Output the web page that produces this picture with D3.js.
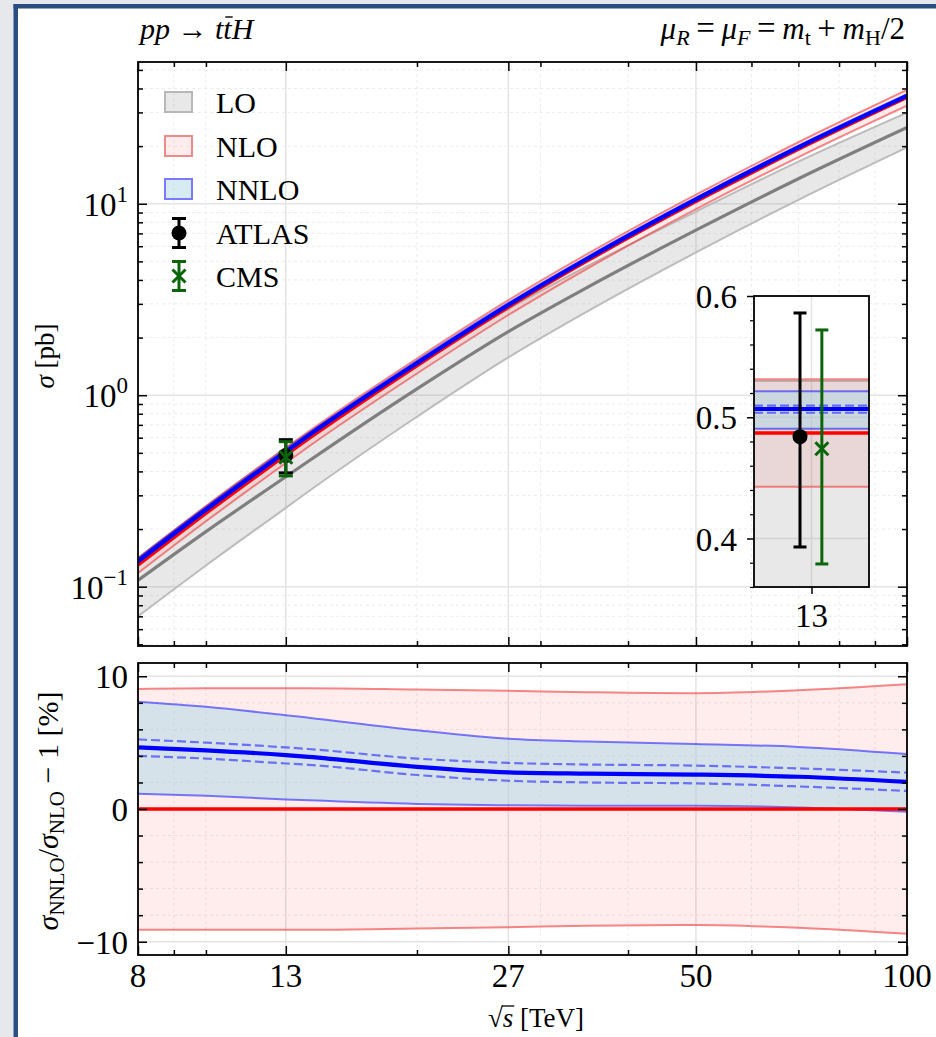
<!DOCTYPE html>
<html><head><meta charset="utf-8">
<script src="https://cdn.jsdelivr.net/npm/d3@7/dist/d3.min.js"></script>
<style>
html,body{margin:0;padding:0;background:#fff;}
svg{display:block;}
text{font-family:"Liberation Serif","Times New Roman",serif;fill:#000;}
</style></head><body>
<svg id="chart" width="936" height="1037"></svg>
<script>
// ---------------- data ----------------
const energies = [8, 10, 13, 14, 20, 27, 35, 50, 70, 100];
const loCentral = [0.108, 0.194, 0.375, 0.452, 1.08, 2.15, 3.66, 7.28, 13.5, 25.0];
const loLow = [0.070, 0.129, 0.258, 0.314, 0.772, 1.576, 2.74, 5.57, 10.49, 19.7];
const loHigh = [0.141, 0.263, 0.530, 0.635, 1.47, 2.82, 4.72, 9.10, 16.6, 29.9];
const nloCentral = [0.1296, 0.2415, 0.487, 0.5915, 1.426, 2.88, 5.03, 10.26, 19.24, 35.9];
const nloLow = [0.1178, 0.2195, 0.4427, 0.5377, 1.298, 2.624, 4.587, 9.363, 17.52, 32.53];
const nloHigh = [0.1413, 0.2635, 0.5313, 0.6453, 1.554, 3.136, 5.473, 11.16, 20.95, 39.28];
const nnloCentral = [0.1356, 0.2521, 0.5068, 0.6149, 1.471, 2.960, 5.163, 10.53, 19.71, 36.63];
const nnloLow = [0.1311, 0.2439, 0.4905, 0.5953, 1.431, 2.888, 5.043, 10.29, 19.26, 35.83];
const nnloHigh = [0.1401, 0.2601, 0.5214, 0.6323, 1.511, 3.033, 5.287, 10.76, 20.14, 37.39];
const nnloDashLow = [0.1348, 0.2507, 0.5037, 0.6112, 1.463, 2.941, 5.131, 10.46, 19.57, 36.39];
const nnloDashHigh = [0.1364, 0.2536, 0.5096, 0.6181, 1.480, 2.980, 5.199, 10.60, 19.83, 36.88];

// ratio panel, percent
const ratioNloCentral = [0, 0, 0, 0, 0, 0, 0, 0, 0, 0];
const ratioNloHigh = [9.05, 9.1, 9.1, 9.1, 9.0, 8.9, 8.8, 8.72, 8.95, 9.4];
const ratioNloLow = [-9.1, -9.1, -9.1, -9.1, -9.0, -8.9, -8.8, -8.74, -8.95, -9.4];
const ratioNnloCentral = [4.64, 4.42, 4.06, 3.93, 3.18, 2.76, 2.66, 2.59, 2.43, 2.04];
const ratioNnloLow = [1.15, 1.0, 0.72, 0.65, 0.38, 0.28, 0.25, 0.25, 0.12, -0.2];
const ratioNnloHigh = [8.08, 7.7, 7.07, 6.88, 5.94, 5.3, 5.08, 4.89, 4.68, 4.14];
const ratioNnloDashLow = [4.0, 3.8, 3.43, 3.33, 2.56, 2.13, 2.0, 1.93, 1.7, 1.36];
const ratioNnloDashHigh = [5.24, 5.0, 4.64, 4.52, 3.8, 3.47, 3.35, 3.27, 3.06, 2.74];

// measurements at 13 TeV
const atlas = {e: 13, v: 0.484, lo: 0.393, hi: 0.586, insetE: 12.9};
const cms = {e: 13, v: 0.474, lo: 0.379, hi: 0.572, insetE: 13.09};

// ticks
const xTicks = [8, 13, 27, 50, 100];
const xTickLabels = ["8", "13", "27", "50", "100"];
const xMinor = [9, 10, 20, 30, 40, 60, 70, 80, 90];
const yMajor = [0.1, 1, 10];
const yMajorExp = ["\u22121", "0", "1"];
const yMinor = [0.05, 0.06, 0.07, 0.08, 0.09, 0.2, 0.3, 0.4, 0.5, 0.6, 0.7, 0.8, 0.9, 2, 3, 4, 5, 6, 7, 8, 9, 20, 30, 40, 50];
const rMajor = [-10, 0, 10];
const rMajorLabels = ["\u221210", "0", "10"];
const rMinor = [-8, -6, -4, -2, 2, 4, 6, 8];
const insetMajor = [0.4, 0.5, 0.6];
const insetMajorLabels = ["0.4", "0.5", "0.6"];
const insetMinor = [0.36, 0.38, 0.42, 0.44, 0.46, 0.48, 0.52, 0.54, 0.56, 0.58];
const legendItems = ["LO", "NLO", "NNLO", "ATLAS", "CMS"];

// ---------------- layout ----------------
const W = 936, H = 1037;
const M = {l: 138, r: 907, t: 62, b: 646};
const R = {l: 138, r: 907, t: 663, b: 955};
const I = {l: 754, r: 869, t: 296, b: 587};

const C = {
  loFill: "rgba(128,128,128,0.18)", loEdge: "#bcbcbc", loLine: "#7f7f7f",
  nloFill: "rgba(255,0,0,0.07)", nloEdge: "rgba(240,70,70,0.65)", nloLine: "#ff0000",
  nnloFill: "rgba(173,216,230,0.5)", nnloEdge: "rgba(0,0,255,0.5)", nnloLine: "#0000ff",
  grid: "#e4e4e4", gridMinor: "#ececec", green: "#0a650a"
};

const svg = d3.select("#chart");
// page frame
svg.append("rect").attr("width", W).attr("height", H).attr("fill", "#e6e8eb");
svg.append("rect").attr("x", 16).attr("y", 6).attr("width", W - 16).attr("height", H - 6).attr("fill", "#fff");
svg.append("rect").attr("x", 13.5).attr("y", 4).attr("width", 4.5).attr("height", H - 4).attr("fill", "#2a4e7f");
svg.append("rect").attr("x", 13.5).attr("y", 4).attr("width", W - 13.5).attr("height", 4.5).attr("fill", "#2a4e7f");

const x = d3.scaleLog().domain([8, 100]).range([M.l, M.r]);
const y = d3.scaleLog().domain([0.049, 55]).range([M.b, M.t]);
const yr = d3.scaleLinear().domain([-11, 11]).range([R.b, R.t]);
const xi = d3.scaleLinear().domain([12.5, 13.5]).range([I.l, I.r]);
const yi = d3.scaleLinear().domain([0.36, 0.6]).range([I.b, I.t]);

const defs = svg.append("defs");
function clip(id, b) {
  defs.append("clipPath").attr("id", id).append("rect")
    .attr("x", b.l).attr("y", b.t).attr("width", b.r - b.l).attr("height", b.b - b.t);
}
clip("clipM", M); clip("clipR", R); clip("clipI", I);

// ---------------- helpers ----------------
function grid(g, b, xs, ysc, yMaj, yMin, xsc) {
  const add = (x1, x2, y1, y2, major) => g.append("line")
    .attr("x1", x1).attr("x2", x2).attr("y1", y1).attr("y2", y2)
    .attr("stroke", major ? C.grid : C.gridMinor)
    .attr("stroke-width", major ? 1.5 : 1)
    .attr("stroke-dasharray", major ? null : "3,3");
  xMinor.forEach(v => add(xsc(v), xsc(v), b.t, b.b, false));
  yMin.forEach(v => add(b.l, b.r, ysc(v), ysc(v), false));
  xs.forEach(v => add(xsc(v), xsc(v), b.t, b.b, true));
  yMaj.forEach(v => add(b.l, b.r, ysc(v), ysc(v), true));
}
function band(g, lo, hi, ysc, fill) {
  g.append("path").datum(energies.map((e, i) => [e, lo[i], hi[i]]))
    .attr("d", d3.area().x(d => x(d[0])).y0(d => ysc(d[1])).y1(d => ysc(d[2])).curve(d3.curveMonotoneX))
    .attr("fill", fill);
}
function curve(g, vals, ysc, stroke, w, dash) {
  g.append("path").datum(energies.map((e, i) => [e, vals[i]]))
    .attr("d", d3.line().x(d => x(d[0])).y(d => ysc(d[1])).curve(d3.curveMonotoneX))
    .attr("fill", "none").attr("stroke", stroke).attr("stroke-width", w)
    .attr("stroke-dasharray", dash || null);
}
function drawSet(g, ysc, s) {
  band(g, s.loL, s.loH, ysc, C.loFill);
  curve(g, s.loL, ysc, C.loEdge, 2); curve(g, s.loH, ysc, C.loEdge, 2);
  band(g, s.nloL, s.nloH, ysc, C.nloFill);
  curve(g, s.nloL, ysc, C.nloEdge, 2); curve(g, s.nloH, ysc, C.nloEdge, 2);
  band(g, s.nnloL, s.nnloH, ysc, C.nnloFill);
  curve(g, s.nnloL, ysc, C.nnloEdge, 2); curve(g, s.nnloH, ysc, C.nnloEdge, 2);
  if (s.lo) curve(g, s.lo, ysc, C.loLine, 3.2);
  curve(g, s.nlo, ysc, C.nloLine, 3.4);
  curve(g, s.dL, ysc, C.nnloEdge, 2.2, "9,4"); curve(g, s.dH, ysc, C.nnloEdge, 2.2, "9,4");
  curve(g, s.nnlo, ysc, C.nnloLine, 4.2);
}
function tickAxis(b, xsc, ysc, xMaj, xMin, yMaj, yMin) {
  const g = svg.append("g");
  const mk = (axis, tr, vals, size) => {
    const a = g.append("g").attr("transform", tr)
      .call(axis.tickValues(vals).tickSize(size).tickFormat(""));
    a.select(".domain").remove();
    a.selectAll("line").attr("stroke", "#000").attr("stroke-width", 1.5);
  };
  mk(d3.axisBottom(xsc), `translate(0,${b.b})`, xMaj, -9);
  mk(d3.axisBottom(xsc), `translate(0,${b.b})`, xMin, -5);
  mk(d3.axisTop(xsc), `translate(0,${b.t})`, xMaj, -9);
  mk(d3.axisTop(xsc), `translate(0,${b.t})`, xMin, -5);
  mk(d3.axisLeft(ysc), `translate(${b.l},0)`, yMaj, -9);
  mk(d3.axisLeft(ysc), `translate(${b.l},0)`, yMin, -5);
  mk(d3.axisRight(ysc), `translate(${b.r},0)`, yMaj, -9);
  mk(d3.axisRight(ysc), `translate(${b.r},0)`, yMin, -5);
  svg.append("rect").attr("x", b.l).attr("y", b.t).attr("width", b.r - b.l).attr("height", b.b - b.t)
    .attr("fill", "none").attr("stroke", "#000").attr("stroke-width", 1.8);
}
function errBar(g, cx, ysc, d, color, marker, cap) {
  g.append("line").attr("x1", cx).attr("x2", cx).attr("y1", ysc(d.lo)).attr("y2", ysc(d.hi))
    .attr("stroke", color).attr("stroke-width", 3);
  [d.lo, d.hi].forEach(v => g.append("line").attr("x1", cx - cap).attr("x2", cx + cap)
    .attr("y1", ysc(v)).attr("y2", ysc(v)).attr("stroke", color).attr("stroke-width", 3));
  drawMarker(g, cx, ysc(d.v), color, marker);
}
function drawMarker(g, cx, cy, color, marker) {
  if (marker === "o") {
    g.append("circle").attr("cx", cx).attr("cy", cy).attr("r", 7.5).attr("fill", color);
  } else {
    const s = 6.5;
    g.append("path").attr("d", `M${cx - s},${cy - s}L${cx + s},${cy + s}M${cx - s},${cy + s}L${cx + s},${cy - s}`)
      .attr("stroke", color).attr("stroke-width", 3).attr("fill", "none");
  }
}

// ---------------- main panel ----------------
const gM = svg.append("g");
grid(gM, M, xTicks, y, yMajor, yMinor, x);
const gMc = svg.append("g").attr("clip-path", "url(#clipM)");
drawSet(gMc, y, {
  lo: loCentral, loL: loLow, loH: loHigh,
  nlo: nloCentral, nloL: nloLow, nloH: nloHigh,
  nnlo: nnloCentral, nnloL: nnloLow, nnloH: nnloHigh,
  dL: nnloDashLow, dH: nnloDashHigh
});
tickAxis(M, x, y, xTicks, xMinor, yMajor, yMinor);
errBar(svg, x(atlas.e), y, atlas, "#000", "o", 7);
errBar(svg, x(cms.e), y, cms, C.green, "x", 7);

// y labels with exponents
yMajor.forEach((v, i) => {
  const t = svg.append("text").attr("x", M.l - 10).attr("y", y(v) + 12)
    .attr("text-anchor", "end").attr("font-size", 33);
  t.append("tspan").text("10");
  t.append("tspan").attr("font-size", 23).attr("dy", -14).text(yMajorExp[i]);
});

// ---------------- ratio panel ----------------
const gR = svg.append("g");
grid(gR, R, xTicks, yr, rMajor, rMinor, x);
const gRc = svg.append("g").attr("clip-path", "url(#clipR)");
band(gRc, ratioNloLow, ratioNloHigh, yr, C.nloFill);
curve(gRc, ratioNloLow, yr, C.nloEdge, 2); curve(gRc, ratioNloHigh, yr, C.nloEdge, 2);
band(gRc, ratioNnloLow, ratioNnloHigh, yr, C.nnloFill);
curve(gRc, ratioNnloLow, yr, C.nnloEdge, 2); curve(gRc, ratioNnloHigh, yr, C.nnloEdge, 2);
curve(gRc, ratioNloCentral, yr, C.nloLine, 3.6);
curve(gRc, ratioNnloDashLow, yr, C.nnloEdge, 2.2, "9,4");
curve(gRc, ratioNnloDashHigh, yr, C.nnloEdge, 2.2, "9,4");
curve(gRc, ratioNnloCentral, yr, C.nnloLine, 4.2);
tickAxis(R, x, yr, xTicks, xMinor, rMajor, rMinor);
rMajor.forEach((v, i) => svg.append("text").attr("x", R.l - 10).attr("y", yr(v) + 12)
  .attr("text-anchor", "end").attr("font-size", 33).text(rMajorLabels[i]));
xTicks.forEach((v, i) => svg.append("text").attr("x", x(v)).attr("y", R.b + 32)
  .attr("text-anchor", "middle").attr("font-size", 33).text(xTickLabels[i]));

// ---------------- inset ----------------
const k = energies.indexOf(13);
svg.append("rect").attr("x", I.l).attr("y", I.t).attr("width", I.r - I.l).attr("height", I.b - I.t).attr("fill", "#fff");
const gI = svg.append("g").attr("clip-path", "url(#clipI)");
gI.append("line").attr("x1", xi(13)).attr("x2", xi(13)).attr("y1", I.t).attr("y2", I.b).attr("stroke", C.grid).attr("stroke-width", 1.5);
insetMajor.forEach(v => gI.append("line").attr("x1", I.l).attr("x2", I.r).attr("y1", yi(v)).attr("y2", yi(v)).attr("stroke", C.grid).attr("stroke-width", 1.5));
const ex = xi.domain();
function hband(lo, hi, fill) {
  gI.append("path").datum(ex).attr("d", d3.area().x(d => xi(d)).y0(yi(lo)).y1(yi(hi))).attr("fill", fill);
}
function hline(v, stroke, w, dash) {
  gI.append("line").attr("x1", xi(ex[0])).attr("x2", xi(ex[1])).attr("y1", yi(v)).attr("y2", yi(v))
    .attr("stroke", stroke).attr("stroke-width", w).attr("stroke-dasharray", dash || null);
}
hband(loLow[k], loHigh[k], C.loFill); hline(loHigh[k], C.loEdge, 2);
hband(nloLow[k], nloHigh[k], C.nloFill); hline(nloLow[k], C.nloEdge, 2); hline(nloHigh[k], C.nloEdge, 2);
hband(nnloLow[k], nnloHigh[k], C.nnloFill); hline(nnloLow[k], C.nnloEdge, 2); hline(nnloHigh[k], C.nnloEdge, 2);
hline(nloCentral[k], C.nloLine, 3.4);
hline(nnloDashLow[k], C.nnloEdge, 2.2, "9,4"); hline(nnloDashHigh[k], C.nnloEdge, 2.2, "9,4");
hline(nnloCentral[k], C.nnloLine, 4.2);
errBar(svg, xi(atlas.insetE), yi, atlas, "#000", "o", 6.5);
errBar(svg, xi(cms.insetE), yi, cms, C.green, "x", 6.5);
svg.append("rect").attr("x", I.l).attr("y", I.t).attr("width", I.r - I.l).attr("height", I.b - I.t)
  .attr("fill", "none").attr("stroke", "#000").attr("stroke-width", 1.8);
{
  const a = svg.append("g").attr("transform", `translate(${I.l},0)`)
    .call(d3.axisLeft(yi).tickValues(insetMajor).tickSize(7).tickFormat(""));
  a.select(".domain").remove(); a.selectAll("line").attr("stroke", "#000").attr("stroke-width", 1.5);
  const b = svg.append("g").attr("transform", `translate(${I.l},0)`)
    .call(d3.axisLeft(yi).tickValues(insetMinor).tickSize(4).tickFormat(""));
  b.select(".domain").remove(); b.selectAll("line").attr("stroke", "#000").attr("stroke-width", 1.2);
  const c = svg.append("g").attr("transform", `translate(0,${I.b})`)
    .call(d3.axisBottom(xi).tickValues([13]).tickSize(7).tickFormat(""));
  c.select(".domain").remove(); c.selectAll("line").attr("stroke", "#000").attr("stroke-width", 1.5);
}
insetMajor.forEach((v, i) => svg.append("text").attr("x", I.l - 17).attr("y", yi(v) + 12)
  .attr("text-anchor", "end").attr("font-size", 33).text(insetMajorLabels[i]));
svg.append("text").attr("x", xi(13)).attr("y", I.b + 40).attr("text-anchor", "middle").attr("font-size", 33).text("13");

// ---------------- legend ----------------
const legY = [102, 146, 189, 233, 276];
const swatches = [[C.loFill, "#b8b8b8"], ["rgba(255,0,0,0.07)", "#f08a8a"], ["rgba(173,216,230,0.5)", "#7a7aff"]];
swatches.forEach((s, i) => svg.append("rect").attr("x", 165).attr("y", legY[i] - 10).attr("width", 27).attr("height", 20)
  .attr("fill", s[0]).attr("stroke", s[1]).attr("stroke-width", 2));
[[atlas, "#000", "o"], [cms, C.green, "x"]].forEach((m, j) => {
  const cy = legY[3 + j], cx = 179;
  svg.append("line").attr("x1", cx).attr("x2", cx).attr("y1", cy - 14.5).attr("y2", cy + 14.5).attr("stroke", m[1]).attr("stroke-width", 3);
  [cy - 14.5, cy + 14.5].forEach(v => svg.append("line").attr("x1", cx - 7).attr("x2", cx + 7).attr("y1", v).attr("y2", v).attr("stroke", m[1]).attr("stroke-width", 3));
  drawMarker(svg, cx, cy, m[1], m[2]);
});
legendItems.forEach((t, i) => svg.append("text").attr("x", 216).attr("y", legY[i] + 11).attr("font-size", 30).text(t));

// ---------------- titles ----------------
{
  const t = svg.append("text").attr("x", 140).attr("y", 39).attr("font-size", 30);
  t.append("tspan").attr("font-style", "italic").text("pp");
  t.append("tspan").text(" \u2192 ");
  t.append("tspan").attr("font-style", "italic").text("tt");
  t.append("tspan").attr("font-style", "italic").text("H");
  const ext = t.node().getExtentOfChar(6);
  svg.append("line").attr("x1", ext.x + 2).attr("x2", ext.x + ext.width + 1).attr("y1", 39 - 22).attr("y2", 39 - 22)
    .attr("stroke", "#000").attr("stroke-width", 1.4);
}
{
  const t = svg.append("text").attr("x", 905).attr("y", 39).attr("font-size", 31).attr("text-anchor", "end");
  const sp = (txt, opts = {}) => {
    const s = t.append("tspan").text(txt);
    if (opts.it) s.attr("font-style", "italic");
    if (opts.fs) s.attr("font-size", opts.fs);
    if (opts.dy) s.attr("dy", opts.dy);
    return s;
  };
  sp("\u03bc", {it: 1}); sp("R", {it: 1, fs: 22, dy: 6}); sp("\u2009=\u2009", {dy: -6});
  sp("\u03bc", {it: 1}); sp("F", {it: 1, fs: 22, dy: 6}); sp("\u2009=\u2009", {dy: -6});
  sp("m", {it: 1}); sp("t", {fs: 22, dy: 6}); sp("\u2009+\u2009", {dy: -6});
  sp("m", {it: 1}); sp("H", {fs: 22, dy: 6}); sp("/2", {dy: -6});
  t.selectAll("tspan").filter(function() { return /[=+]/.test(this.textContent); }).attr("font-size", 33);
}
// axis labels
{
  const t = svg.append("text").attr("transform", "translate(54,356) rotate(-90)").attr("text-anchor", "middle").attr("font-size", 27);
  t.append("tspan").attr("font-style", "italic").text("\u03c3");
  t.append("tspan").text(" [pb]");
}
{
  const t = svg.append("text").attr("transform", "translate(58,811) rotate(-90)").attr("text-anchor", "middle").attr("font-size", 30);
  t.append("tspan").attr("font-style", "italic").text("\u03c3");
  t.append("tspan").attr("font-size", 21).attr("dy", 6).text("NNLO");
  t.append("tspan").attr("dy", -6).text("/");
  t.append("tspan").attr("font-style", "italic").text("\u03c3");
  t.append("tspan").attr("font-size", 21).attr("dy", 6).text("NLO");
  t.append("tspan").attr("dy", -6).text(" \u2212 1 [%]");
}
{
  const bx = 536, by = 1027;
  const t = svg.append("text").attr("x", bx).attr("y", by).attr("text-anchor", "middle").attr("font-size", 27);
  t.append("tspan").text("\u221a");
  t.append("tspan").attr("font-style", "italic").text("s");
  t.append("tspan").text(" [TeV]");
  const e0 = t.node().getExtentOfChar(0), e1 = t.node().getExtentOfChar(1);
  svg.append("line").attr("x1", e0.x + e0.width - 1).attr("x2", e1.x + e1.width + 1)
    .attr("y1", by - 21).attr("y2", by - 21).attr("stroke", "#000").attr("stroke-width", 1.3);
}
</script>
</body></html>
